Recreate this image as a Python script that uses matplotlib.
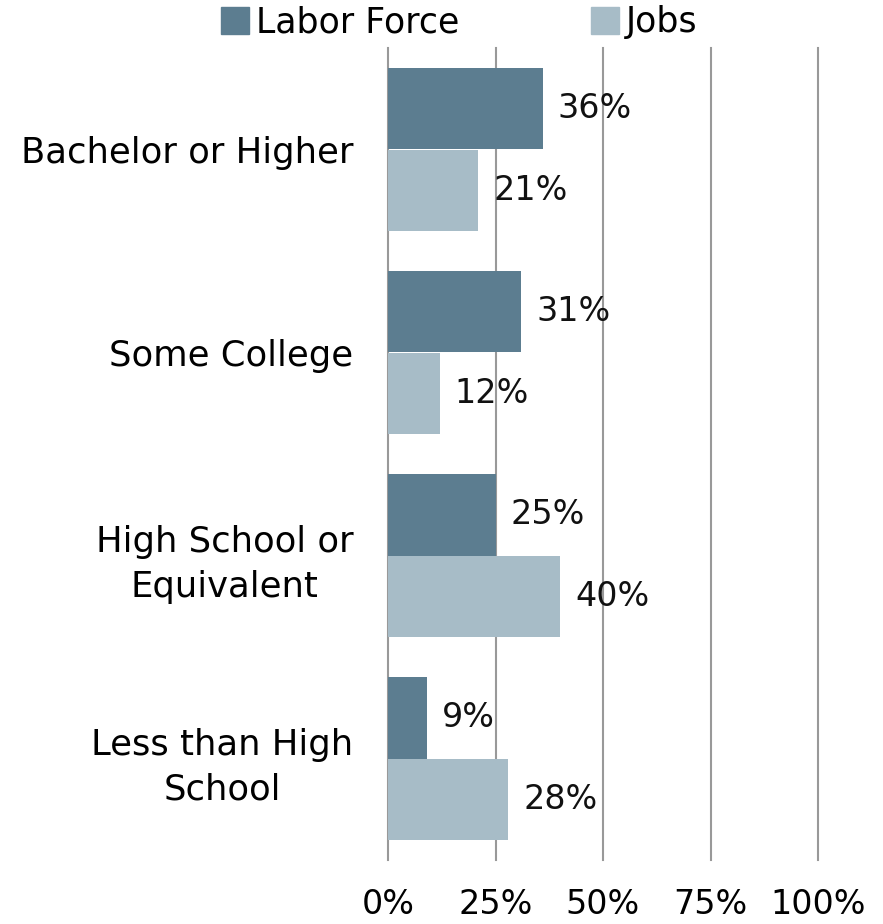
import matplotlib
matplotlib.use("Agg")
import matplotlib.pyplot as plt
import numpy as np
from matplotlib.patches import Patch

categories = ["Bachelor or Higher", "Some College", "High School or\nEquivalent", "Less than High\nSchool"]
labor_force = [36, 31, 25, 9]
jobs = [21, 12, 40, 28]
series_names = ["Labor Force", "Jobs"]
xticks = [0, 25, 50, 75, 100]
xtick_labels = ["0%", "25%", "50%", "75%", "100%"]

dark = "#5c7d90"
light = "#a7bcc7"
fs = 24
plt.rcParams['font.family'] = ['DejaVu Sans']

fig = plt.figure(figsize=(8.83, 9.24), dpi=100)
ax = fig.add_axes([388/883, 1-860/924, (818-388)/883, (860-48)/924])

y = np.arange(len(categories))
h = 0.4
ax.barh(y - h/2, labor_force, height=h, color=dark, zorder=3)
ax.barh(y + h/2, jobs, height=h, color=light, zorder=3)

for yi, v in zip(y, labor_force):
    ax.text(v + 3.5, yi - h/2, f"{v}%", va="center", ha="left", fontsize=fs, color="#111111", zorder=4)
for yi, v in zip(y, jobs):
    ax.text(v + 3.5, yi + h/2, f"{v}%", va="center", ha="left", fontsize=fs, color="#111111", zorder=4)

ax.set_xlim(0, 100)
ax.set_ylim(3.5, -0.5)
ax.set_xticks(xticks)
ax.set_xticklabels(xtick_labels, fontsize=fs)
ax.set_yticks(y)
ax.set_yticklabels(categories, fontsize=25.5, multialignment="center", linespacing=1.4)
ax.tick_params(axis="both", length=0)
ax.tick_params(axis="x", pad=20)
ax.tick_params(axis="y", pad=25)
for xv in xticks:
    ax.axvline(xv, color="#999999", linewidth=1.5, zorder=0, clip_on=False)
for s in ax.spines.values():
    s.set_visible(False)

handles = [Patch(color=dark), Patch(color=light)]
fig.legend(handles, series_names, loc="upper center", bbox_to_anchor=(459/883, 1.028),
           ncol=2, frameon=False, fontsize=25, handlelength=0.8, handleheight=0.8,
           handletextpad=0.2, columnspacing=3.8)

fig.savefig("out.png", dpi=100)
